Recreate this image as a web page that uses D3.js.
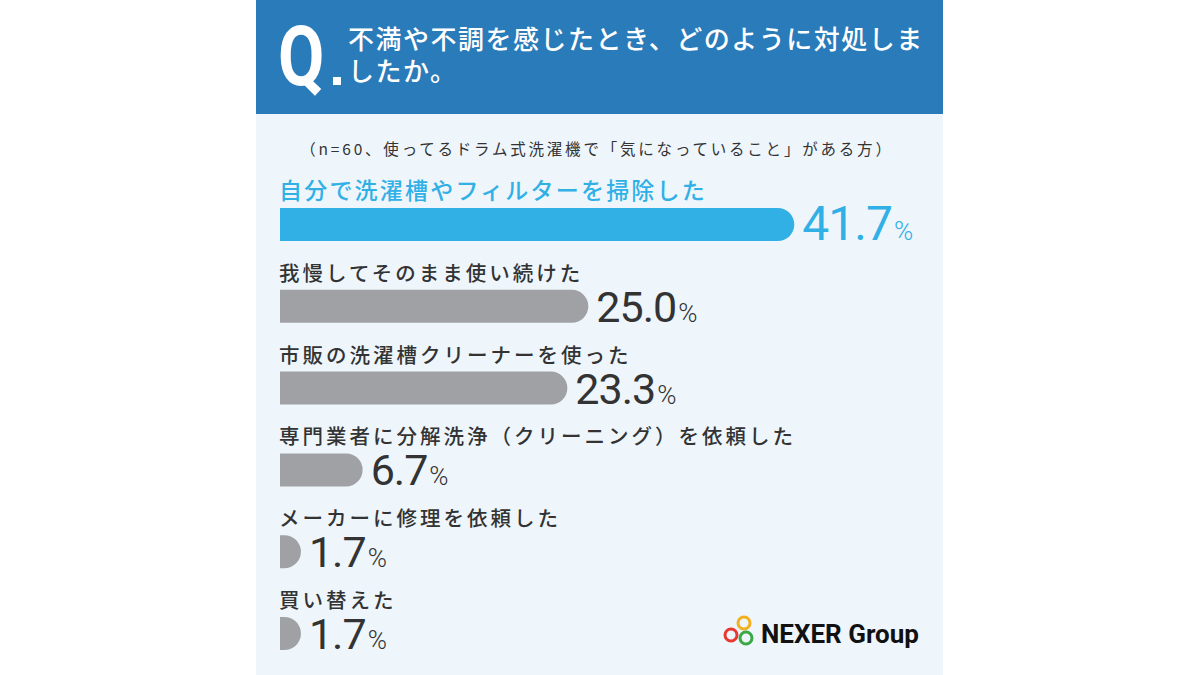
<!DOCTYPE html>
<html>
<head>
<meta charset="utf-8">
<script src="https://cdn.jsdelivr.net/npm/d3@7"></script>
<style>
  html, body { margin: 0; padding: 0; background: #ffffff; }
  svg { display: block; }
</style>
</head>
<body>
<div id="chart"></div>
<script>
const width = 1200;
const height = 675;

// data
const categories = [
    "自分で洗濯槽やフィルターを掃除した",
    "我慢してそのまま使い続けた",
    "市販の洗濯槽クリーナーを使った",
    "専門業者に分解洗浄（クリーニング）を依頼した",
    "メーカーに修理を依頼した",
    "買い替えた"
];
const values = [41.7, 25.0, 23.3, 6.7, 1.7, 1.7];
const titleLines = ["不満や不調を感じたとき、どのように対処しま", "したか。"];
const note = "（n=60、使ってるドラム式洗濯機で「気になっていること」がある方）";

const blue = "#31b0e6";
const grey = "#a0a1a5";
const ink = "#333333";

const svg = d3.select("#chart")
    .append("svg")
    .attr("width", width)
    .attr("height", height);

// panel
const px0 = 256, px1 = 943;
svg.append("rect")
    .attr("x", px0).attr("y", 0)
    .attr("width", px1 - px0).attr("height", height)
    .attr("fill", "#eef6fc");
svg.append("rect")
    .attr("x", px0).attr("y", 0)
    .attr("width", px1 - px0).attr("height", 114)
    .attr("fill", "#2a7bba");

// "Q." mark
svg.append("text")
    .attr("transform", "translate(278,85) scale(0.8,1)")
    .attr("font-family", "Roboto, 'DejaVu Sans', sans-serif")
    .attr("font-weight", 700)
    .attr("font-size", 84)
    .attr("fill", "#ffffff")
    .text("Q");
svg.append("rect")
    .attr("x", 333).attr("y", 77)
    .attr("width", 8).attr("height", 8)
    .attr("fill", "#ffffff");

svg.append("g")
    .selectAll("text")
    .data(titleLines)
    .enter().append("text")
    .attr("x", 348)
    .attr("y", (d, i) => 49 + i * 32)
    .attr("font-family", "'Noto Sans CJK JP', sans-serif")
    .attr("font-weight", 500)
    .attr("font-size", 26)
    .attr("letter-spacing", 1.5)
    .attr("fill", "#ffffff")
    .text(d => d);

svg.append("text")
    .attr("x", 597)
    .attr("y", 155)
    .attr("text-anchor", "middle")
    .attr("font-family", "'Noto Sans CJK JP', sans-serif")
    .attr("font-size", 15.5)
    .attr("letter-spacing", 2.8)
    .attr("fill", ink)
    .text(note);

// scales
const x0 = 280;
const x = d3.scaleLinear().domain([0, 45]).range([0, 555]);
const y = d3.scaleBand().domain(categories).range([208, 208 + 81.8 * categories.length]);
const barH = 33;

// bar with square left end and rounded right end
function barPath(w, top) {
    const r = barH / 2;
    const rx = Math.min(r, w);
    return `M${x0},${top} H${x0 + w - rx} A${rx},${r} 0 0 1 ${x0 + w - rx},${top + barH} H${x0} Z`;
}

const rows = svg.append("g")
    .selectAll("g")
    .data(categories)
    .enter().append("g");

rows.append("text")
    .attr("x", x0 - 1)
    .attr("y", d => y(d) - 9)
    .attr("font-family", "'Noto Sans CJK JP', sans-serif")
    .attr("font-weight", 500)
    .attr("font-size", (d, i) => i === 0 ? 23 : 20.5)
    .attr("letter-spacing", (d, i) => i === 0 ? 2.2 : 3)
    .attr("fill", (d, i) => i === 0 ? blue : ink)
    .text(d => d);

rows.append("path")
    .attr("d", (d, i) => barPath(x(values[i]), y(d)))
    .attr("fill", (d, i) => i === 0 ? blue : grey);

const num = rows.append("text")
    .attr("x", (d, i) => x0 + x(values[i]) + 8)
    .attr("y", d => y(d) + barH - 1)
    .attr("font-family", "Roboto, 'DejaVu Sans', sans-serif")
    .attr("font-weight", 400)
    .attr("letter-spacing", -1)
    .attr("fill", (d, i) => i === 0 ? blue : ink);

num.append("tspan")
    .attr("font-size", (d, i) => i === 0 ? 48 : 43)
    .text((d, i) => values[i].toFixed(1));
num.append("tspan")
    .attr("font-size", 26)
    .attr("font-weight", 300)
    .attr("dx", 2)
    .text("%");

// logo
const rings = [
    { cx: 744, cy: 623, c: "#f2b01e" },
    { cx: 731, cy: 635, c: "#e8382f" },
    { cx: 746, cy: 638, c: "#3aa845" }
];
svg.append("g")
    .selectAll("circle")
    .data(rings)
    .enter().append("circle")
    .attr("cx", d => d.cx).attr("cy", d => d.cy)
    .attr("r", 6)
    .attr("fill", "none")
    .attr("stroke", d => d.c)
    .attr("stroke-width", 3);
svg.append("text")
    .attr("x", 761)
    .attr("y", 643)
    .attr("font-family", "Roboto, 'DejaVu Sans', sans-serif")
    .attr("font-weight", 700)
    .attr("font-size", 26)
    .attr("fill", "#111111")
    .text("NEXER Group");
</script>
</body>
</html>
